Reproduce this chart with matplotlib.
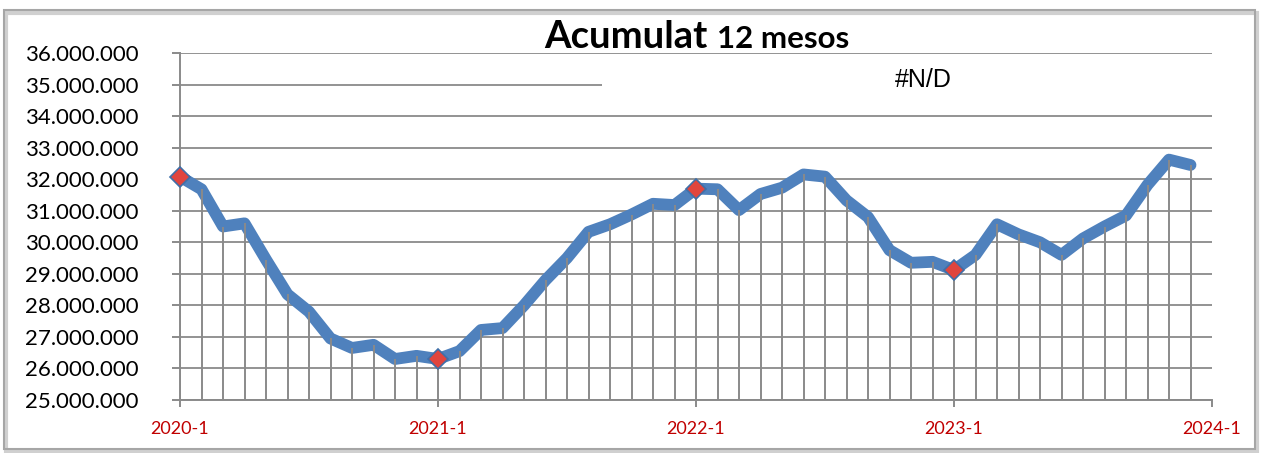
import matplotlib
matplotlib.use("Agg")
import matplotlib.pyplot as plt
from matplotlib.patches import Rectangle
from matplotlib.transforms import blended_transform_factory

# monthly 12-month accumulated values, 2020-1 .. 2023-12
months = [f"{y}-{m}" for y in range(2020, 2024) for m in range(1, 13)]
values = [
    32.08e6, 31.68e6, 30.50e6, 30.60e6, 29.45e6, 28.35e6, 27.80e6, 26.95e6, 26.65e6, 26.75e6, 26.30e6, 26.40e6,
    26.30e6, 26.55e6, 27.22e6, 27.28e6, 28.00e6, 28.80e6, 29.50e6, 30.33e6, 30.57e6, 30.88e6, 31.22e6, 31.18e6,
    31.70e6, 31.68e6, 31.02e6, 31.53e6, 31.73e6, 32.15e6, 32.08e6, 31.33e6, 30.80e6, 29.75e6, 29.35e6, 29.38e6,
    29.12e6, 29.60e6, 30.57e6, 30.25e6, 30.00e6, 29.60e6, 30.12e6, 30.50e6, 30.85e6, 31.82e6, 32.62e6, 32.45e6,
]
year_labels = ["2020-1", "2021-1", "2022-1", "2023-1", "2024-1"]
y_ticks = [25e6 + i * 1e6 for i in range(12)]

W, H = 1262, 453
BLUE = "#4f81bd"
GREY = "#8a8a8a"
RED = "#c00000"
FONT = "Lato"


def main() -> None:
    fig = plt.figure(figsize=(W / 100, H / 100), dpi=100)
    fig.patch.set_facecolor("white")

    # outer chart frame with a soft shadow
    fig.add_artist(Rectangle((6 / W, 1 / H), 1251 / W, 439 / H, transform=fig.transFigure,
                             fill=False, edgecolor="#d0d0d0", lw=3))
    fig.add_artist(Rectangle((4 / W, 4 / H), 1251 / W, 439 / H, transform=fig.transFigure,
                             fill=False, edgecolor="#a6a6a6", lw=1.5))

    ax = fig.add_axes([180 / W, 53 / H, 1032 / W, 347 / H])
    x = list(range(len(values)))

    ax.set_xlim(0, 48)
    ax.set_ylim(25e6, 36e6)
    ax.set_axisbelow(True)
    ax.yaxis.grid(True, color=GREY, lw=1.3)

    # white box hiding the 35M gridline behind the "#N/D" label
    tr = blended_transform_factory(ax.transAxes, ax.transData)
    ax.add_patch(Rectangle((0.409, 34.4e6), 0.6, 1.2e6, transform=tr, facecolor="white",
                           edgecolor="none", zorder=1, clip_on=False))

    ax.plot(x, values, color=BLUE, lw=8.5, solid_joinstyle="round", solid_capstyle="round",
            zorder=2, clip_on=False)
    ax.vlines(x, 25e6, values, color=GREY, lw=1.4, zorder=3)

    idx = [0, 12, 24, 36]
    ax.plot(idx, [values[i] for i in idx], ls="none", marker="D", markersize=10,
            markerfacecolor="#e0453e", markeredgecolor="#3f6fa8", markeredgewidth=1.2,
            zorder=4, clip_on=False)

    for s in ["top", "right"]:
        ax.spines[s].set_visible(False)
    for s in ["left", "bottom"]:
        ax.spines[s].set_color(GREY)
        ax.spines[s].set_linewidth(1.4)

    ax.set_yticks(y_ticks)
    ax.set_yticklabels([f"{v:,.0f}".replace(",", ".") for v in y_ticks], fontsize=16, family=FONT)
    ax.set_xticks([0, 12, 24, 36, 48])
    ax.set_xticklabels(year_labels, fontsize=13, color=RED, family=FONT)
    ax.tick_params(axis="y", length=6, color=GREY, width=1.4, pad=24)
    ax.tick_params(axis="x", length=5, color=GREY, width=1.4, pad=10)

    fig.text(708 / W, 1 - 48 / H, "Acumulat", fontsize=27.5, fontweight="bold", family=FONT,
             ha="right", va="baseline")
    fig.text(717 / W, 1 - 48 / H, "12 mesos", fontsize=22.5, fontweight="bold", family=FONT,
             ha="left", va="baseline")
    fig.text(895 / W, 1 - 87 / H, "#N/D", fontsize=18, family="Liberation Sans",
             ha="left", va="baseline")

    fig.savefig("out.png", dpi=100)
    plt.close(fig)


if __name__ == "__main__":
    main()
